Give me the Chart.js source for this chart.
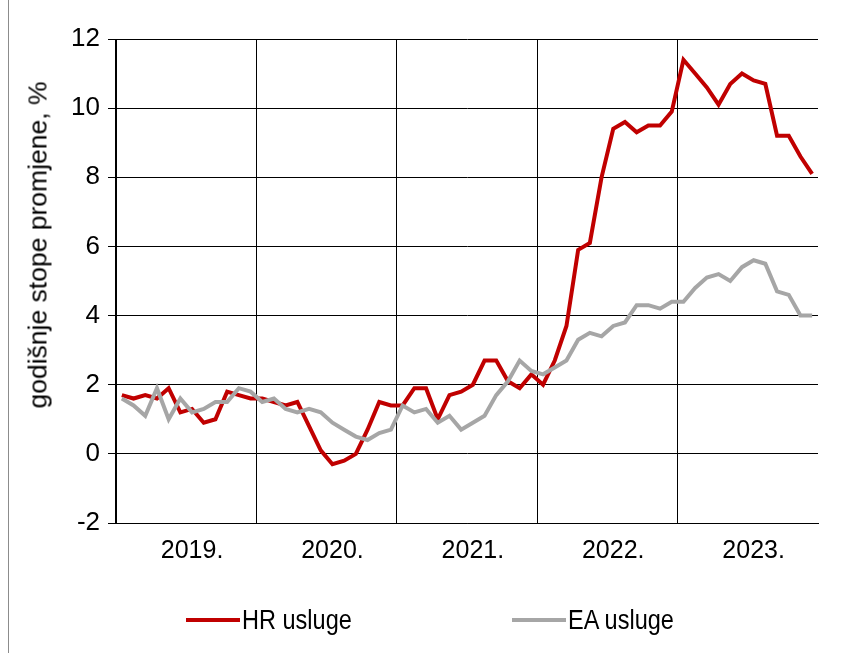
<!DOCTYPE html>
<html>
<head>
<meta charset="utf-8">
<script src="https://cdn.jsdelivr.net/npm/chart.js@4"></script>
<style>
  html, body { margin: 0; padding: 0; background: #fff; }
  #wrap { position: relative; width: 852px; height: 653px; font-family: 'Liberation Sans', Arial, sans-serif; color: #000; }
  #wrap::before { content: ""; position: absolute; left: 8px; top: 0; bottom: 0; border-left: 1px solid #8c8c8c; }
  #yTitle { position: absolute; left: 38px; top: 245px; font-size: 26.5px; white-space: nowrap; transform: translate(-50%, -50%) rotate(-90deg); }
  #legend { position: absolute; left: 0; top: 604px; width: 852px; height: 32px; }
  .legend-item { position: absolute; top: 0; height: 32px; display: flex; align-items: center; white-space: nowrap; }
  .legend-line { display: inline-block; width: 54px; height: 4px; margin-right: 2px; }
  .legend-text { display: inline-block; font-size: 28px; transform: scaleX(0.84); transform-origin: left center; }
</style>
</head>
<body>
<div id="wrap">
  <canvas id="chartCanvas" width="852" height="653"></canvas>
  <div id="yTitle">godišnje stope promjene, %</div>
  <div id="legend"></div>
</div>
<script>
const years = [2019, 2020, 2021, 2022, 2023];
const monthsPerYear = 12;

// godišnje stope promjene, %
const hrServices = [
  1.7, 1.6, 1.7, 1.6, 1.9, 1.2, 1.3, 0.9, 1.0, 1.8, 1.7, 1.6,
  1.6, 1.5, 1.4, 1.5, 0.8, 0.1, -0.3, -0.2, 0.0, 0.7, 1.5, 1.4,
  1.4, 1.9, 1.9, 1.0, 1.7, 1.8, 2.0, 2.7, 2.7, 2.1, 1.9, 2.3,
  2.0, 2.7, 3.7, 5.9, 6.1, 8.0, 9.4, 9.6, 9.3, 9.5, 9.5, 9.9,
  11.4, 11.0, 10.6, 10.1, 10.7, 11.0, 10.8, 10.7, 9.2, 9.2, 8.6, 8.1,
];
const eaServices = [
  1.6, 1.4, 1.1, 1.9, 1.0, 1.6, 1.2, 1.3, 1.5, 1.5, 1.9, 1.8,
  1.5, 1.6, 1.3, 1.2, 1.3, 1.2, 0.9, 0.7, 0.5, 0.4, 0.6, 0.7,
  1.4, 1.2, 1.3, 0.9, 1.1, 0.7, 0.9, 1.1, 1.7, 2.1, 2.7, 2.4,
  2.3, 2.5, 2.7, 3.3, 3.5, 3.4, 3.7, 3.8, 4.3, 4.3, 4.2, 4.4,
  4.4, 4.8, 5.1, 5.2, 5.0, 5.4, 5.6, 5.5, 4.7, 4.6, 4.0, 4.0,
];

const labels = [];
years.forEach((year) => {
  for (let m = 1; m <= monthsPerYear; m++) {
    labels.push(year + "-" + String(m).padStart(2, "0"));
  }
});

const plainFont = "'Liberation Sans', Arial, sans-serif";
const legendLeft = [186, 512];

const chartContext = document.getElementById("chartCanvas");

let chart = new Chart(chartContext, {
  type: "line",
  data: {
    labels: labels,
    datasets: [
      {
        data: hrServices,
        label: "HR usluge",
        borderColor: "#c00000",
        backgroundColor: "#c00000",
        borderWidth: 4,
        order: 1,
      },
      {
        data: eaServices,
        label: "EA usluge",
        borderColor: "#a6a6a6",
        backgroundColor: "#a6a6a6",
        borderWidth: 4,
        order: 0,
      },
    ],
  },
  options: {
    responsive: false,
    animation: false,
    elements: {
      point: { radius: 0 },
      line: { tension: 0 },
    },
    layout: {
      padding: { left: 0, right: 34, top: 39, bottom: 68 },
    },
    plugins: {
      tooltip: { enabled: false },
      legend: { display: false },
    },
    scales: {
      x: {
        offset: true,
        afterFit: (scale) => {
          scale.height = 62;
        },
        grid: {
          offset: true,
          drawTicks: false,
          color: (ctx) => (ctx.index % monthsPerYear === 0 ? "#000" : "rgba(0,0,0,0)"),
          lineWidth: 1,
        },
        border: { color: "#000", width: 1 },
        ticks: {
          autoSkip: false,
          maxRotation: 0,
          padding: 13,
          color: "#000",
          font: { family: plainFont, size: 25 },
          callback: function (value, index) {
            return index % monthsPerYear === 6 ? labels[index].slice(0, 4) + "." : "";
          },
        },
      },
      y: {
        min: -2,
        max: 12,
        afterFit: (scale) => {
          scale.width = 116;
        },
        ticks: {
          stepSize: 2,
          padding: 8,
          color: "#000",
          font: { family: plainFont, size: 26 },
        },
        grid: {
          color: "#000",
          lineWidth: 1,
          tickLength: 8,
        },
        border: { color: "#000", width: 1 },
      },
    },
  },
});

// legend built from the chart's own datasets
const legendBox = document.getElementById("legend");
chart.data.datasets.forEach((ds, i) => {
  const item = document.createElement("div");
  item.className = "legend-item";
  item.style.left = legendLeft[i] + "px";
  const line = document.createElement("span");
  line.className = "legend-line";
  line.style.background = ds.borderColor;
  const text = document.createElement("span");
  text.className = "legend-text";
  text.textContent = ds.label;
  item.appendChild(line);
  item.appendChild(text);
  legendBox.appendChild(item);
});
</script>
</body>
</html>
